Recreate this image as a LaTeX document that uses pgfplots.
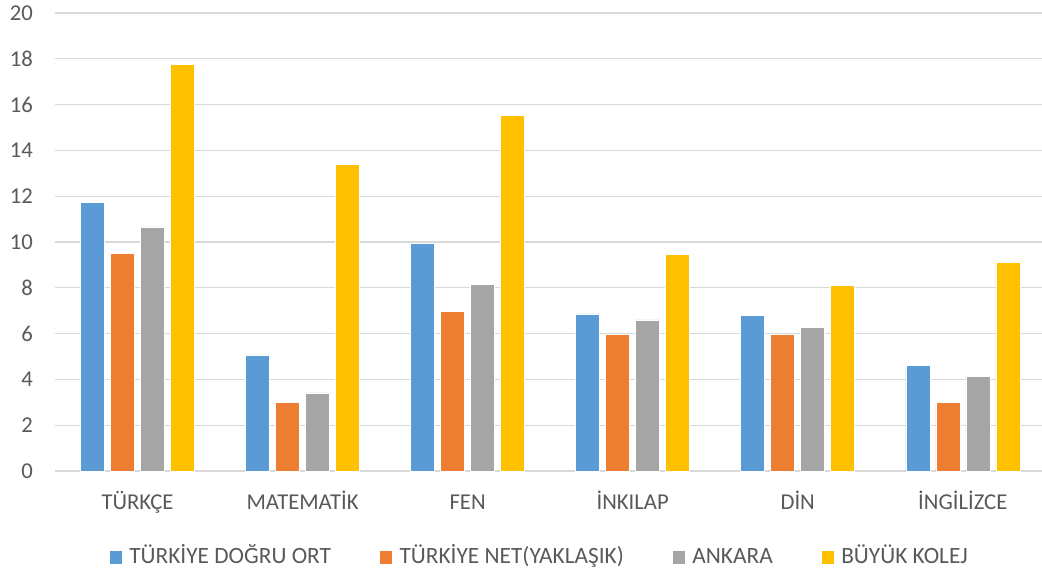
\documentclass[border=0pt]{standalone}
\usepackage{pgfplots}
\pgfplotsset{compat=1.18}
\usepackage{fontspec}
\setmainfont{Carlito}
\definecolor{cBlue}{HTML}{5B9BD5}
\definecolor{cOrange}{HTML}{ED7D31}
\definecolor{cGray}{HTML}{A5A5A5}
\definecolor{cYellow}{HTML}{FFC000}
\definecolor{cGrid}{HTML}{D9D9D9}
\definecolor{cText}{HTML}{595959}
\begin{document}
\begin{tikzpicture}[x=0.75pt,y=0.75pt]
\useasboundingbox (0,0) rectangle (1042,579);
\begin{axis}[
  at={(55*0.75pt,108*0.75pt)}, anchor=south west,
  scale only axis,
  width=987*0.75pt, height=458*0.75pt,
  ymin=0, ymax=20, ytick={0,2,...,20},
  xmin=-0.5, xmax=5.48,
  xtick={0,1,2,3,4,5},
  xticklabels={TÜRKÇE,MATEMATİK,FEN,İNKILAP,DİN,İNGİLİZCE},
  ybar=4.5pt, bar width=18pt,
  ymajorgrids, grid style={cGrid, line width=1pt},
  major tick length=0pt,
  axis x line*=bottom,
  axis y line*=left,
  x axis line style={cGrid, line width=1pt, -},
  y axis line style={draw=none},
  /pgf/number format/assume math mode=true,
  ticklabel style={font=\fontsize{17pt}{20pt}\selectfont, text=cText},
  yticklabel style={anchor=east, xshift=-13pt},
  xticklabel style={anchor=base, yshift=-28.5pt},
  legend style={at={(0.491,-0.188)}, anchor=center, draw=none, fill=none,
    font=\fontsize{17.5pt}{20pt}\selectfont, text=cText,
    legend columns=4,
    nodes={text height=12pt, text depth=3pt},
    /tikz/every odd column/.append style={column sep=3pt},
    /tikz/every even column/.append style={column sep=34pt}},
  legend image code/.code={\fill[#1] (0pt,-5pt) rectangle (10pt,5pt);},
  clip=false,
]
\addplot[fill=cBlue, draw=white, line width=0.4pt] coordinates {(0,11.72) (1,5.07) (2,9.94) (3,6.86) (4,6.81) (5,4.60)};
\addplot[fill=cOrange, draw=white, line width=0.4pt] coordinates {(0,9.49) (1,2.98) (2,6.97) (3,5.98) (4,5.98) (5,2.98)};
\addplot[fill=cGray, draw=white, line width=0.4pt] coordinates {(0,10.66) (1,3.41) (2,8.14) (3,6.60) (4,6.28) (5,4.12)};
\addplot[fill=cYellow, draw=white, line width=0.4pt] coordinates {(0,17.76) (1,13.38) (2,15.53) (3,9.45) (4,8.11) (5,9.13)};
\legend{TÜRKİYE DOĞRU ORT, TÜRKİYE NET(YAKLAŞIK), ANKARA, BÜYÜK KOLEJ}
\end{axis}
\end{tikzpicture}
\end{document}
